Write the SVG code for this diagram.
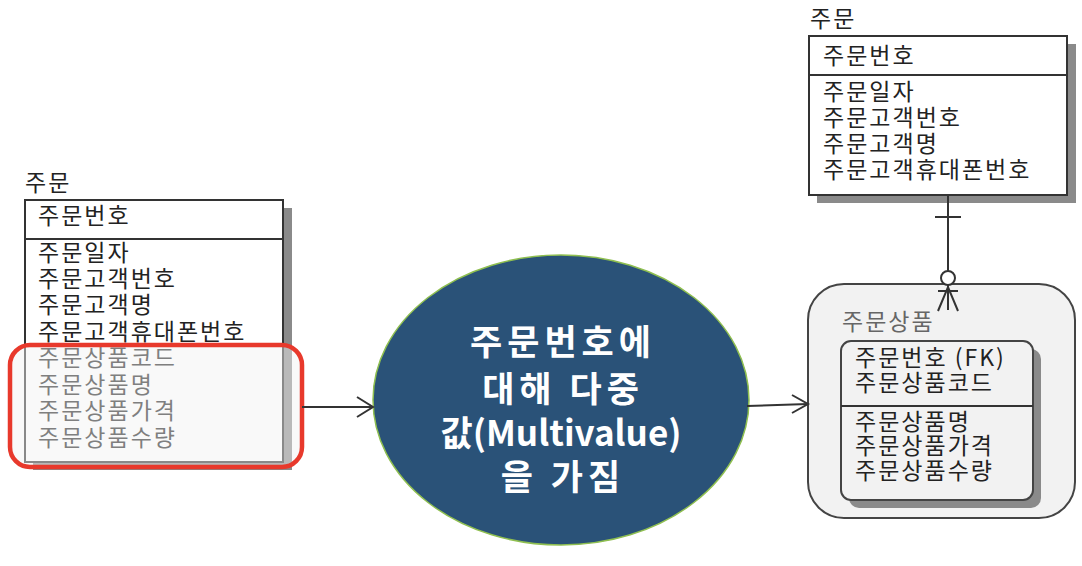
<svg xmlns="http://www.w3.org/2000/svg" width="1082" height="566" viewBox="0 0 1082 566">
<style>
.t{font-family:"Noto Sans CJK KR","Noto Sans",sans-serif;font-size:23px;letter-spacing:2px;fill:#222}
.g{fill:#666}
.box{fill:#fff;stroke:#333;stroke-width:2}
.sh{fill:#8a8a8a}
.ln{stroke:#333;stroke-width:2;fill:none}
.et{font-family:"Noto Sans CJK KR","Noto Sans",sans-serif;font-size:35px;font-weight:bold;fill:#fff;text-anchor:middle}
.ks{letter-spacing:5px}
</style>
<rect width="1082" height="566" fill="#fff"/>
<g id="entity-left">
  <text class="t" x="25" y="191">주문</text>
  <rect class="sh" x="33" y="208" width="259" height="262"/>
  <rect class="box" x="25" y="200" width="258" height="262"/>
  <line class="ln" x1="25" y1="239" x2="283" y2="239"/>
  <text class="t" x="38" y="224">주문번호</text>
  <text class="t" x="38" y="261">주문일자</text>
  <text class="t" x="38" y="287">주문고객번호</text>
  <text class="t" x="38" y="313">주문고객명</text>
  <text class="t" x="38" y="340">주문고객휴대폰번호</text>
  <text class="t" x="38" y="366">주문상품코드</text>
  <text class="t" x="38" y="393">주문상품명</text>
  <text class="t" x="38" y="419">주문상품가격</text>
  <text class="t" x="38" y="446">주문상품수량</text>
  <rect x="10" y="345" width="292" height="122" rx="20" fill="#f2f2f2" fill-opacity="0.45" stroke="#e8392c" stroke-width="4.5"/>
</g>
<g id="ellipse-note">
  <ellipse cx="561" cy="400" rx="188" ry="145" fill="#2a5278" stroke="#8fbf50" stroke-width="1.5"/>
  <text class="et ks" x="563" y="355">주문번호에</text>
  <text class="et ks" x="563" y="402">대해 다중</text>
  <text class="et" x="561" y="446">값(Multivalue)</text>
  <text class="et ks" x="563" y="490">을 가짐</text>
</g>
<g id="entity-top">
  <text class="t" x="810" y="27">주문</text>
  <rect class="sh" x="817" y="44" width="259" height="159"/>
  <rect class="box" x="809" y="36" width="258" height="159"/>
  <line class="ln" x1="809" y1="75" x2="1067" y2="75"/>
  <text class="t" x="823" y="64">주문번호</text>
  <text class="t" x="823" y="100">주문일자</text>
  <text class="t" x="823" y="126">주문고객번호</text>
  <text class="t" x="823" y="152">주문고객명</text>
  <text class="t" x="823" y="178">주문고객휴대폰번호</text>
</g>
<g id="entity-orderitem">
  <rect x="808" y="284" width="267" height="234" rx="36" fill="#f2f2f2" stroke="#444" stroke-width="2"/>
  <text class="t g" x="842" y="330">주문상품</text>
  <rect class="sh" x="849" y="349" width="192" height="159" rx="10"/>
  <rect x="841" y="341" width="192" height="159" rx="10" fill="#f2f2f2" stroke="#444" stroke-width="2"/>
  <line class="ln" x1="841" y1="406" x2="1033" y2="406"/>
  <text class="t" x="855" y="366">주문번호 (FK)</text>
  <text class="t" x="855" y="391">주문상품코드</text>
  <text class="t" x="855" y="430">주문상품명</text>
  <text class="t" x="855" y="454">주문상품가격</text>
  <text class="t" x="855" y="479">주문상품수량</text>
</g>
<g id="connectors">
  <line class="ln" x1="302" y1="407" x2="373" y2="407"/>
  <polyline class="ln" points="357,397 373,407 357,417"/>
  <line class="ln" x1="747" y1="406" x2="808" y2="404"/>
  <polyline class="ln" points="792,395 808,404 792,413"/>
  <line class="ln" x1="948" y1="195" x2="948" y2="310"/>
  <line class="ln" x1="935" y1="217" x2="961" y2="217"/>
  <circle cx="948" cy="278" r="7" fill="#fff" stroke="#333" stroke-width="2"/>
  <line class="ln" x1="938" y1="291" x2="958" y2="291"/>
  <polyline class="ln" points="938,311 948,287 958,311"/>
</g>
</svg>
